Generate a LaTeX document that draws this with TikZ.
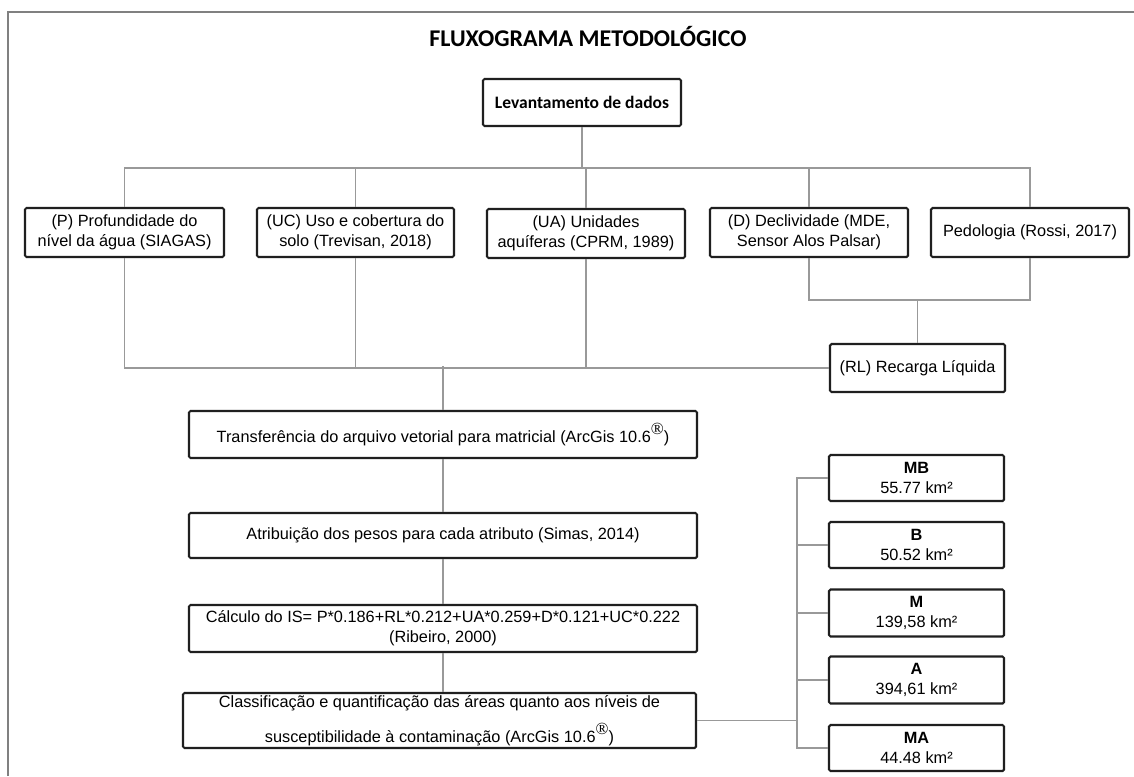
\documentclass[tikz,border=0pt]{standalone}
\usepackage{fontspec}
\setmainfont{Liberation Sans}
\newfontfamily\calibrifont{Carlito}
\newfontfamily\serifreg{Liberation Serif}
\newcommand{\regmark}{\raisebox{0.95ex}{\serifreg\fontsize{17}{17}\selectfont ®}}
\begin{document}
\begin{tikzpicture}[x=1pt,y=-1pt,
  mainbox/.style={draw=black!88, line width=2.1pt, rounded corners=1.5pt, fill=white,
    align=center, inner sep=2pt, font=\fontsize{16.3}{19.5}\selectfont},
  connline/.style={draw=black!40, line width=1.5pt},
  framelin/.style={draw=black!50, line width=2pt}
]
\useasboundingbox (0,0) rectangle (1134,776);
\fill[white] (0,0) rectangle (1134,776);
\draw[framelin] (8,776) -- (8,12) -- (1134,12);

\node[font=\calibrifont\bfseries\fontsize{24}{27}\selectfont] (title) at (588,37) {FLUXOGRAMA METODOLÓGICO};

\node[mainbox, minimum width=198pt, minimum height=47pt, font=\calibrifont\bfseries\fontsize{17.5}{20}\selectfont] (lev) at (582,102.5) {Levantamento de dados};

\node[mainbox, minimum width=199pt, minimum height=49pt] (P) at (124.5,232.5) {(P) Profundidade do\\nível da água (SIAGAS)};
\node[mainbox, minimum width=197pt, minimum height=49pt] (UC) at (355.5,232.5) {(UC) Uso e cobertura do\\solo (Trevisan, 2018)};
\node[mainbox, minimum width=198pt, minimum height=49pt] (UA) at (586,233.5) {(UA) Unidades\\aquíferas (CPRM, 1989)};
\node[mainbox, minimum width=198pt, minimum height=49pt] (D) at (809,232.5) {(D) Declividade (MDE,\\Sensor Alos Palsar)};
\node[mainbox, minimum width=198pt, minimum height=49pt] (Ped) at (1030,232.5) {Pedologia (Rossi, 2017)};

\node[mainbox, minimum width=175pt, minimum height=48pt] (RL) at (917.5,368) {(RL) Recarga Líquida};

\node[mainbox, minimum width=508pt, minimum height=47pt] (TR) at (443,434.5) {Transferência do arquivo vetorial para matricial (ArcGis 10.6\regmark)};
\node[mainbox, minimum width=508pt, minimum height=45pt] (AT) at (443,535.5) {Atribuição dos pesos para cada atributo (Simas, 2014)};
\node[mainbox, minimum width=508pt, minimum height=47pt, font=\fontsize{16.3}{20}\selectfont] (CA) at (443,628.5) {Cálculo do IS= P*0.186+RL*0.212+UA*0.259+D*0.121+UC*0.222\\(Ribeiro, 2000)};
\node[mainbox, minimum width=513pt, minimum height=55pt, inner sep=0pt, font=\fontsize{16.3}{35}\selectfont] (CL) at (439.5,720.5) {Classificação e quantificação das áreas quanto aos níveis de\\susceptibilidade à contaminação (ArcGis 10.6\regmark)};

\node[mainbox, minimum width=175pt, minimum height=46pt] (MB) at (916.5,478) {\textbf{MB}\\55.77 km²};
\node[mainbox, minimum width=175pt, minimum height=46pt] (B) at (916.5,545) {\textbf{B}\\50.52 km²};
\node[mainbox, minimum width=175pt, minimum height=47pt] (M) at (916.5,613) {\textbf{M}\\139,58 km²};
\node[mainbox, minimum width=175pt, minimum height=47pt] (A) at (916.5,680) {\textbf{A}\\394,61 km²};
\node[mainbox, minimum width=175pt, minimum height=46pt] (MA) at (916.5,748) {\textbf{MA}\\44.48 km²};

\coordinate (top) at (582,168);
\coordinate (bot) at (443,366);
\coordinate (dp) at (917.5,300);
\coordinate (brx) at (797,720.5);

\draw[connline] (lev.south) -- (top);
\draw[connline] (P.north) |- (top) -| (Ped.north);
\draw[connline] (UC.north) -- (UC.north |- top);
\draw[connline] (UA.north) -- (UA.north |- top);
\draw[connline] (D.north) -- (D.north |- top);

\draw[connline] (P.south) |- (RL.west);
\draw[connline] (UC.south) -- (UC.south |- RL.west);
\draw[connline] (UA.south) -- (UA.south |- RL.west);
\draw[connline] (bot) -- (TR.north);
\draw[connline] (D.south) |- (dp) -| (Ped.south);
\draw[connline] (dp) -- (RL.north);

\draw[connline] (TR.south) -- (AT.north);
\draw[connline] (AT.south) -- (CA.north);
\draw[connline] (CA.south) -- (CA.south |- CL.north);

\draw[connline] (CL.east) -- (brx);
\draw[connline] (MB.west) -| (brx |- MB.west) |- (MA.west);
\draw[connline] (B.west) -- (B.west -| brx);
\draw[connline] (M.west) -- (M.west -| brx);
\draw[connline] (A.west) -- (A.west -| brx);
\end{tikzpicture}
\end{document}
